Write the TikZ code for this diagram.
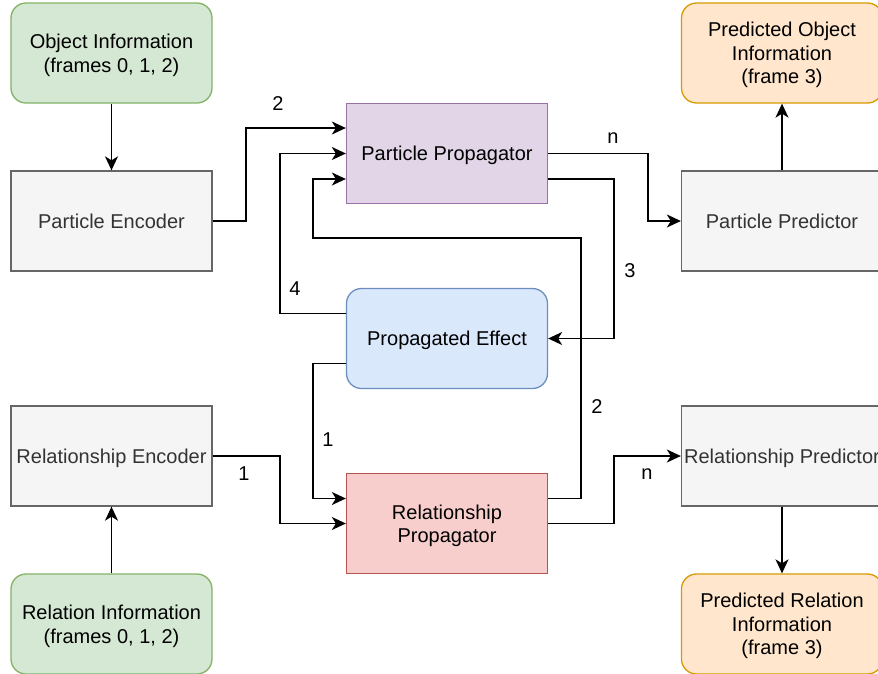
\documentclass[tikz,border=0pt]{standalone}
\usepackage{fontspec}
\setmainfont{Liberation Sans}
\usetikzlibrary{arrows.meta}

\definecolor{greyfill}{HTML}{F5F5F5}
\definecolor{greydraw}{HTML}{666666}
\definecolor{greytext}{HTML}{333333}
\definecolor{greenfill}{HTML}{D5E8D4}
\definecolor{greendraw}{HTML}{82B366}
\definecolor{orangefill}{HTML}{FFE6CC}
\definecolor{orangedraw}{HTML}{D79B00}
\definecolor{purplefill}{HTML}{E1D5E7}
\definecolor{purpledraw}{HTML}{9673A6}
\definecolor{bluefill}{HTML}{DAE8FC}
\definecolor{bluedraw}{HTML}{6C8EBF}
\definecolor{redfill}{HTML}{F8CECC}
\definecolor{reddraw}{HTML}{B85450}

\begin{document}
\begin{tikzpicture}[x=1pt,y=-1pt,
  box/.style={draw, line width=1.3pt, minimum width=201pt, minimum height=100pt,
    inner sep=0pt, align=center, text depth=0pt, font=\fontsize{20}{23.5}\selectfont},
  greybox/.style={box, fill=greyfill, draw=greydraw, text=greytext},
  greenbox/.style={box, rounded corners=15pt, fill=greenfill, draw=greendraw},
  orangebox/.style={box, rounded corners=15pt, fill=orangefill, draw=orangedraw},
  purplebox/.style={box, fill=purplefill, draw=purpledraw},
  bluebox/.style={box, rounded corners=15pt, fill=bluefill, draw=bluedraw},
  redbox/.style={box, fill=redfill, draw=reddraw},
  conn/.style={line width=1.6pt, -{Stealth[length=14pt,width=13pt,inset=4pt]}},
  lbl/.style={font=\fontsize{20}{24}\selectfont, inner sep=0pt}
]
\useasboundingbox (0,0) rectangle (878,673);

% left column: inputs and encoders
\node[greenbox] (obj) at (111.5,53) {Object Information\\(frames 0, 1, 2)};
\node[greybox] (penc) at (111.5,221) {Particle Encoder};
\node[greybox] (renc) at (111.5,456) {Relationship Encoder};
\node[greenbox] (rinfo) at (111.5,624) {Relation Information\\(frames 0, 1, 2)};

% middle column: propagators
\node[purplebox] (pp) at (447,153.5) {Particle Propagator};
\node[bluebox] (pe) at (447,338.5) {Propagated Effect};
\node[redbox] (rp) at (447,523.5) {Relationship\\Propagator};

% right column: predictors and outputs
\node[orangebox] (pobj) at (782,53) {Predicted Object\\Information\\(frame 3)};
\node[greybox] (ppred) at (782,221) {Particle Predictor};
\node[greybox] (rpred) at (782,456) {Relationship Predictor};
\node[orangebox] (prinfo) at (782,624) {Predicted Relation\\Information\\(frame 3)};

% vertical links
\draw[conn] (obj.south) -- (penc.north);
\draw[conn] (rinfo.north) -- (renc.south);
\draw[conn] (ppred.north) -- (pobj.south);
\draw[conn] (rpred.south) -- (prinfo.north);

% encoders into propagators
\draw[conn] (penc.east) -- (246,221) -- (246,128) -- ([yshift=25.5pt]pp.west);
\draw[conn] (renc.east) -- (280,456) -- (280,523.5) -- (rp.west);

% feedback loops
\draw[conn] ([yshift=25pt]pe.west) -- (280,313.5) -- (280,153.5) -- (pp.west);
\draw[conn] ([yshift=25pt]rp.east) -- (581,498.5) -- (581,238) -- (313,238) -- (313,179) -- ([yshift=-25.5pt]pp.west);
\draw[conn] ([yshift=-25.5pt]pp.east) -- (614,179) -- (614,338.5) -- (pe.east);
\draw[conn] ([yshift=-25pt]pe.west) -- (313,363.5) -- (313,498.5) -- ([yshift=25pt]rp.west);

% propagators into predictors
\draw[conn] (pp.east) -- (648,153.5) -- (648,221) -- (ppred.west);
\draw[conn] (rp.east) -- (614,523.5) -- (614,456) -- (rpred.west);

% edge labels
\node[lbl] (l2a) at (278,104) {2};
\node[lbl] (l4) at (295,289) {4};
\node[lbl] (ln1) at (613,138) {n};
\node[lbl] (l3) at (630,271) {3};
\node[lbl] (l2b) at (597,407) {2};
\node[lbl] (l1a) at (328,440) {1};
\node[lbl] (l1b) at (244,474) {1};
\node[lbl] (ln2) at (647,474) {n};
\end{tikzpicture}
\end{document}
